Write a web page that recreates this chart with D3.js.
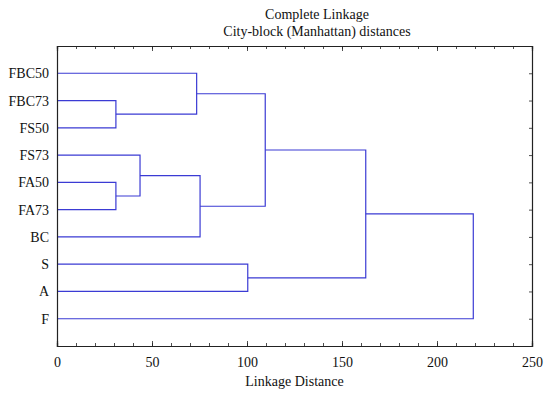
<!DOCTYPE html>
<html>
<head>
<meta charset="utf-8">
<script src="https://cdn.jsdelivr.net/npm/d3@7"></script>
<style>
body { margin: 0; background: #fff; }
svg text { font-family: "Liberation Serif", "DejaVu Serif", serif; fill: #111; }
</style>
</head>
<body>
<svg id="chart" width="550" height="395"></svg>
<script>
// Leaves, top to bottom
const leaves = ["FBC50", "FBC73", "FS50", "FS73", "FA50", "FA73", "BC", "S", "A", "F"];
// Merges: id = childA + childB at linkage distance
const mergeIds = ["M1", "M2", "M3", "M4", "M5", "M6", "M7", "M8", "M9"];
const mergeA = ["FBC73", "FA50", "FBC50", "FS73", "M4", "S", "M3", "M7", "M8"];
const mergeB = ["FS50", "FA73", "M1", "M2", "BC", "A", "M5", "M6", "F"];
const mergeDist = [31, 31, 73.5, 43.7, 75.3, 100.4, 109.6, 162.5, 219.1];
const xTicks = [0, 50, 100, 150, 200, 250];
const titleLines = ["Complete Linkage", "City-block (Manhattan) distances"];
const xLabel = "Linkage Distance";

const svg = d3.select("#chart");
const margin = { left: 57, right: 18, top: 46, bottom: 49 };
const W = 550, H = 395;
const x = d3.scaleLinear().domain([0, 250]).range([margin.left, W - margin.right]);
const y = d3.scaleLinear().domain([0, leaves.length + 1]).range([margin.top, H - margin.bottom]);
const lineColor = "#3b3bd4";

const pos = {};
leaves.forEach((l, i) => { pos[l] = { x: 0, y: i + 1 }; });
mergeIds.forEach((id, i) => {
  const a = pos[mergeA[i]], b = pos[mergeB[i]], d = mergeDist[i];
  svg.append("path")
    .attr("d", `M${x(a.x)},${y(a.y)}H${x(d)}V${y(b.y)}H${x(b.x)}`)
    .attr("fill", "none").attr("stroke", lineColor).attr("stroke-width", 1.2);
  pos[id] = { x: d, y: (a.y + b.y) / 2 };
});

const minor = d3.range(0, 251, 10);
const axCol = "#222";
const gBottom = svg.append("g").attr("transform", `translate(0,${H - margin.bottom})`)
  .call(d3.axisBottom(x).tickValues(minor).tickSize(-3).tickFormat(""));
const gBottomMajor = svg.append("g").attr("transform", `translate(0,${H - margin.bottom})`)
  .call(d3.axisBottom(x).tickValues(xTicks).tickSize(-5).tickPadding(11).tickFormat(d3.format("d")));
const gTop = svg.append("g").attr("transform", `translate(0,${margin.top})`)
  .call(d3.axisTop(x).tickValues(minor).tickSize(-3).tickFormat(""));
const gTopMajor = svg.append("g").attr("transform", `translate(0,${margin.top})`)
  .call(d3.axisTop(x).tickValues(xTicks).tickSize(-5).tickFormat(""));
const gLeft = svg.append("g").attr("transform", `translate(${margin.left},0)`)
  .call(d3.axisLeft(y).tickValues(d3.range(1, leaves.length + 1)).tickSize(-3).tickPadding(8)
    .tickFormat(i => leaves[i - 1]));
const gRight = svg.append("g").attr("transform", `translate(${W - margin.right},0)`)
  .call(d3.axisRight(y).tickValues(d3.range(1, leaves.length + 1)).tickSize(-3).tickFormat(""));

[gBottom, gBottomMajor, gTop, gTopMajor, gLeft, gRight].forEach(g => {
  g.selectAll("path.domain").attr("stroke", axCol).attr("stroke-width", 1.2);
  g.selectAll("line").attr("stroke", axCol).attr("stroke-width", 0.8);
  g.selectAll("text").attr("font-size", 14).attr("fill", "#111")
    .style("font-family", '"Liberation Serif", serif');
});
gLeft.selectAll("line").remove();

svg.append("text").attr("x", 317).attr("y", 19).attr("text-anchor", "middle")
  .attr("font-size", 14).text(titleLines[0]);
svg.append("text").attr("x", 317).attr("y", 36).attr("text-anchor", "middle")
  .attr("font-size", 14).text(titleLines[1]);
svg.append("text").attr("x", x(125)).attr("y", 386).attr("text-anchor", "middle")
  .attr("font-size", 14).text(xLabel);
</script>
</body>
</html>
